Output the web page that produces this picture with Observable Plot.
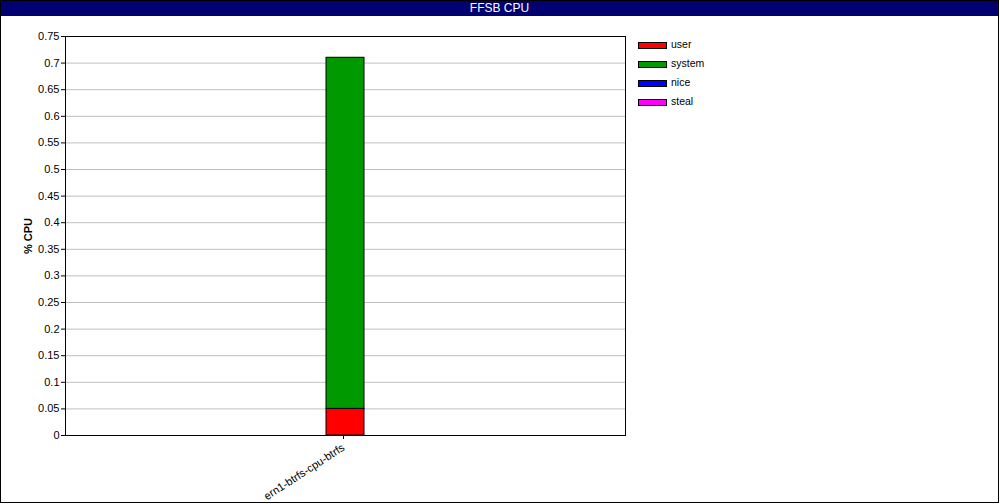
<!DOCTYPE html>
<html>
<head>
<meta charset="utf-8">
<script src="https://cdn.jsdelivr.net/npm/d3@7"></script>
<script src="https://cdn.jsdelivr.net/npm/@observablehq/plot@0.6"></script>
<style>
  html, body { margin: 0; padding: 0; background: #fff; }
  #wrap { position: relative; width: 997px; height: 501px; border: 1px solid #000; overflow: hidden; font-family: "Liberation Sans", Arial, sans-serif; }
  #title { height: 15px; background: #000070; color: #fff; font-size: 12px; line-height: 15px; text-align: center; }
  #legend { position: absolute; left: 637px; top: 40px; font-size: 10.5px; }
  .item { position: relative; height: 19px; }
  .sw { position: absolute; left: 0; top: 1px; width: 27px; height: 5px; border: 1px solid #000; }
  .lab { position: absolute; left: 33px; top: -3px; color: #000; }
  svg { display: block; }
</style>
</head>
<body>
<div id="wrap">
  <div id="title">FFSB CPU</div>
  <div id="chart"></div>
  <div id="legend"></div>
</div>
<script>
const categories = ["ern1-btrfs-cpu-btrfs"];
const seriesNames = ["user", "system", "nice", "steal"];
const seriesColors = ["#ff0000", "#009900", "#0000ff", "#ff00ff"];
const userValues = [0.05];
const systemValues = [0.66];
const niceValues = [0];
const stealValues = [0];
const yTicks = [0, 0.05, 0.1, 0.15, 0.2, 0.25, 0.3, 0.35, 0.4, 0.45, 0.5, 0.55, 0.6, 0.65, 0.7, 0.75];
const yLabel = "% CPU";

const seriesValues = [userValues, systemValues, niceValues, stealValues];
const rows = [];
categories.forEach((c, i) => {
  seriesNames.forEach((s, j) => {
    const v = seriesValues[j][i];
    if (v > 0) rows.push({cat: c, series: s, value: v});
  });
});

const chart = Plot.plot({
  width: 997,
  height: 486,
  marginLeft: 64,
  marginRight: 373,
  marginTop: 20,
  marginBottom: 67,
  style: {fontFamily: "Liberation Sans, Arial, sans-serif", fontSize: "11px", color: "#000", background: "#fff"},
  x: {domain: categories, type: "band", padding: 0.873, label: null},
  y: {domain: [0, 0.75], label: null},
  color: {domain: seriesNames, range: seriesColors},
  marks: [
    Plot.ruleY(yTicks.slice(1, -1), {stroke: "#c0c0c0", strokeWidth: 1}),
    Plot.barY(rows, {x: "cat", y: "value", fill: "series", stroke: "#000", strokeWidth: 1}),
    Plot.frame({stroke: "#000", strokeWidth: 1}),
    Plot.axisY({ticks: yTicks, tickSize: 4, tickPadding: 2, tickFormat: d => String(+d.toFixed(2)), label: null, fontSize: 11}),
    Plot.axisX({tickSize: 4, tickRotate: -33, tickPadding: 7, dx: -2, label: null, fontSize: 11}),
    Plot.text([yLabel], {frameAnchor: "left", dx: -37, rotate: -90, textAnchor: "middle", fontWeight: "bold", fontSize: 11, fill: "#000"})
  ]
});
document.getElementById("chart").appendChild(chart);

const legend = document.getElementById("legend");
seriesNames.forEach((s, i) => {
  const item = document.createElement("div");
  item.className = "item";
  const sw = document.createElement("div");
  sw.className = "sw";
  sw.style.background = seriesColors[i];
  const lab = document.createElement("div");
  lab.className = "lab";
  lab.textContent = s;
  item.appendChild(sw);
  item.appendChild(lab);
  legend.appendChild(item);
});
</script>
</body>
</html>
